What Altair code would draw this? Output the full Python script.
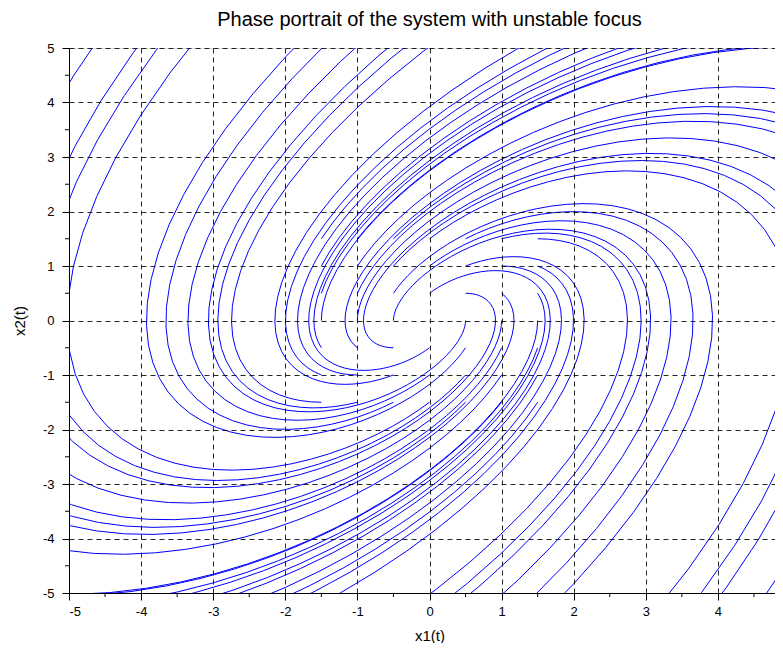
import numpy as np
import pandas as pd
import altair as alt

TITLE = "Phase portrait of the system with unstable focus"
X_LABEL = "x1(t)"
Y_LABEL = "x2(t)"

# Linear system x' = A x  (x1' = x2, x2' = -x1 + x2) -> unstable focus
A_ROW1 = [0.0, 1.0]
A_ROW2 = [-1.0, 1.0]

# Initial conditions (grid around the origin)
X0_VALUES = [-1.5, -1.0, -0.5, 0.0, 0.5, 1.0, 1.5]
Y0_VALUES = [-1.5, -1.0, -0.5, 0.0, 0.5, 1.0, 1.5]

MAJOR_TICKS = [-5, -4, -3, -2, -1, 0, 1, 2, 3, 4, 5]
MINOR_TICKS = [-4.5, -3.5, -2.5, -1.5, -0.5, 0.5, 1.5, 2.5, 3.5, 4.5]

DT = 0.1
T_MAX = 30.0
BOX = 5.0

A = np.array([A_ROW1, A_ROW2])


def f(v):
    return A @ v


def trajectory(x0, y0):
    v = np.array([x0, y0], dtype=float)
    pts = [v.copy()]
    t = 0.0
    while t < T_MAX and np.max(np.abs(v)) < 60:
        k1 = f(v)
        k2 = f(v + 0.5 * DT * k1)
        k3 = f(v + 0.5 * DT * k2)
        k4 = f(v + DT * k3)
        v = v + DT / 6.0 * (k1 + 2 * k2 + 2 * k3 + k4)
        pts.append(v.copy())
        t += DT
    return np.array(pts)


rows = []
seg_id = 0
for x0 in X0_VALUES:
    for y0 in Y0_VALUES:
        if x0 == 0 and y0 == 0:
            continue
        P = trajectory(x0, y0)
        inside = np.max(np.abs(P), axis=1) <= BOX + 0.05
        n = len(P)
        keep = np.zeros(n, dtype=bool)
        for i in range(n):
            if inside[i] or (i > 0 and inside[i - 1]) or (i < n - 1 and inside[i + 1]):
                keep[i] = True
        prev = False
        for i in range(n):
            if keep[i]:
                if not prev:
                    seg_id += 1
                rows.append({"seg": seg_id, "step": i, "x1": round(float(P[i, 0]), 4), "x2": round(float(P[i, 1]), 4)})
            prev = keep[i]

df = pd.DataFrame(rows)

W, H = 721, 545
FONT = "Liberation Sans"

xs = alt.Scale(domain=[-5, 5], nice=False, zero=False)
ys = alt.Scale(domain=[-5, 5], nice=False, zero=False)

# the x label "5" falls outside the visible window in the reference, so it is left blank
x_axis = alt.Axis(values=MAJOR_TICKS, labelExpr="datum.value == 5 ? '' : toString(datum.value)", title=X_LABEL,
                  grid=True, gridDash=[5, 4], gridColor="black", gridOpacity=0.85,
                  tickSize=7, tickColor="black", domainColor="black", labelColor="black",
                  labelFont=FONT, labelFontSize=13, labelPadding=5,
                  titleFont=FONT, titleFontSize=15, titleFontWeight="normal", titleColor="black",
                  titlePadding=10, zindex=1)
y_axis = alt.Axis(values=MAJOR_TICKS, labelExpr="toString(datum.value)", title=Y_LABEL,
                  grid=True, gridDash=[5, 4], gridColor="black", gridOpacity=0.85,
                  tickSize=7, tickColor="black", domainColor="black", labelColor="black",
                  labelFont=FONT, labelFontSize=13, labelPadding=8,
                  titleFont=FONT, titleFontSize=15, titleFontWeight="normal", titleColor="black",
                  titlePadding=15, zindex=1)

lines = alt.Chart(df).mark_line(color="#0000ff", strokeWidth=1, clip=True).encode(
    x=alt.X("x1:Q", scale=xs, axis=x_axis),
    y=alt.Y("x2:Q", scale=ys, axis=y_axis),
    detail="seg:N",
    order="step:Q",
)

minor_df = pd.DataFrame({"v": MINOR_TICKS})
minor_x = alt.Chart(minor_df).mark_rule(color="black", strokeWidth=1, clip=False).encode(
    x=alt.X("v:Q", scale=xs),
    y=alt.value(H),
    y2=alt.value(H + 4),
)
minor_y = alt.Chart(minor_df).mark_rule(color="black", strokeWidth=1, clip=False).encode(
    y=alt.Y("v:Q", scale=ys),
    x=alt.value(0),
    x2=alt.value(-4),
)

chart = alt.layer(lines, minor_x, minor_y).properties(
    width=W, height=H,
    title=alt.TitleParams(TITLE, font=FONT, fontSize=20, fontWeight="normal", color="black",
                          anchor="middle", offset=12),
    autosize=alt.AutoSizeParams(type="none"),
    padding={"left": 61, "top": 40, "right": -15, "bottom": 50},
).configure_view(stroke="black", strokeWidth=1).configure(background="white")

chart.save("out.html", embed_options={"renderer": "svg", "actions": False})
